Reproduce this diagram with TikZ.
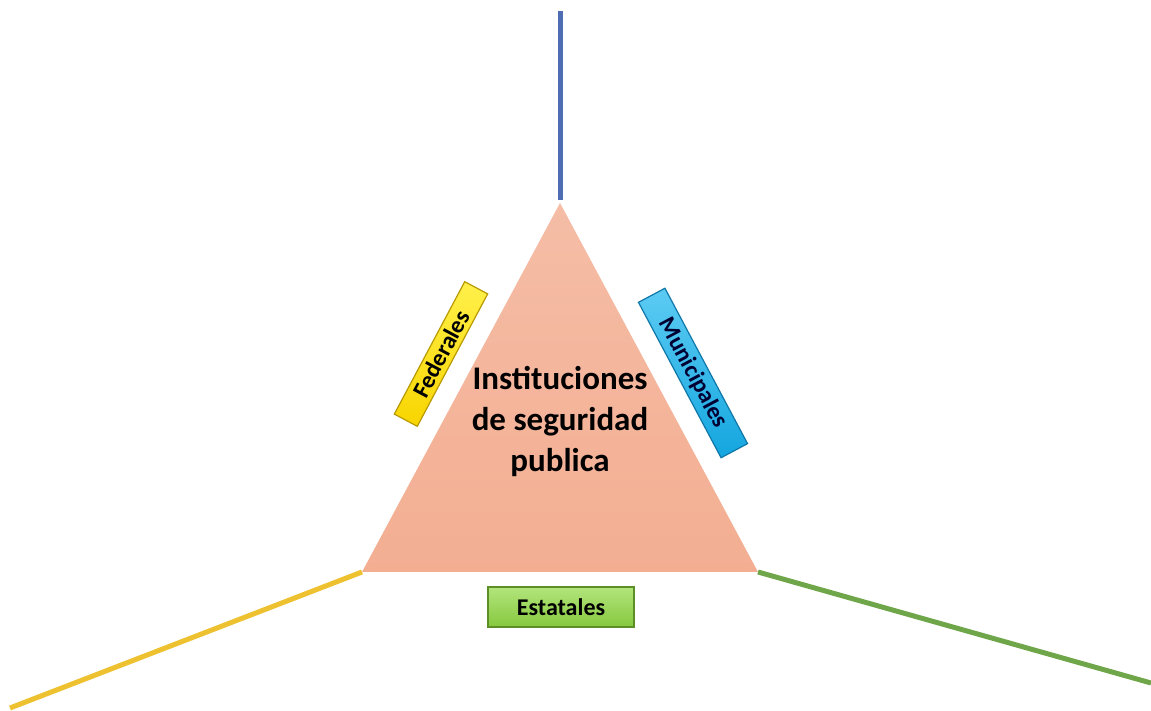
\documentclass[tikz,border=0pt]{standalone}
\usepackage{fontspec}
\setmainfont{Carlito}
\definecolor{piramide}{HTML}{F3AE92}
\definecolor{piramidetop}{HTML}{F5BDA6}
\definecolor{lineaazul}{HTML}{4F6DB3}
\definecolor{lineaamarilla}{HTML}{EDC12F}
\definecolor{lineaverde}{HTML}{6FA64A}
\definecolor{fedfill}{HTML}{F8D500}
\definecolor{fedtop}{HTML}{FFF04A}
\definecolor{fededge}{HTML}{B89A00}
\definecolor{munfill}{HTML}{14A6DF}
\definecolor{muntop}{HTML}{5CCBF3}
\definecolor{munedge}{HTML}{0E77A8}
\definecolor{estfill}{HTML}{86C83E}
\definecolor{esttop}{HTML}{B2E57C}
\definecolor{estedge}{HTML}{5C8F25}
\tikzset{
    etiqueta/.style={inner sep=0pt, minimum height=#1, font=\fontsize{24}{26}\selectfont\bfseries},
    linea/.style={line width=5pt}
}
\begin{document}
\begin{tikzpicture}[x=1pt,y=1pt]
        \useasboundingbox (0,0) rectangle (1151,711);
        %% vertices
        \coordinate (apex) at (560,508);
        \coordinate (izq) at (362,139);
        \coordinate (der) at (758,139);
        %% free ends
        \coordinate (arriba) at (560,700);
        \coordinate (abajoizq) at (10,3);
        \coordinate (abajoder) at (1151,28);
        %% lines
        \draw[linea,lineaazul] (apex) ++(0,3) -- (arriba);
        \draw[linea,lineaamarilla] (izq) -- (abajoizq);
        \draw[linea,lineaverde] (der) -- (abajoder);
        %% triangle
        \shade[top color=piramidetop, bottom color=piramide] (apex) -- (izq) -- (der) -- cycle;
        \node[align=center, font=\fontsize{33}{41}\selectfont\bfseries] (centro) at (560,290)
            {Instituciones\\de seguridad\\publica};
        %% labels
        \node[etiqueta=26pt, minimum width=150pt, rotate=62, draw=fededge, line width=1.2pt,
            top color=fedtop, bottom color=fedfill] (federales) at (441,357) {Federales};
        \node[etiqueta=30pt, minimum width=176pt, rotate=-62, draw=munedge, line width=1.2pt,
            top color=muntop, bottom color=munfill, text=black!80!blue] (municipales) at (693,338) {Municipales};
        \node[etiqueta=40pt, minimum width=146pt, draw=estedge, line width=1.2pt,
            top color=esttop, bottom color=estfill] (estatales) at (561,104) {Estatales};
    \end{tikzpicture}
\end{document}
